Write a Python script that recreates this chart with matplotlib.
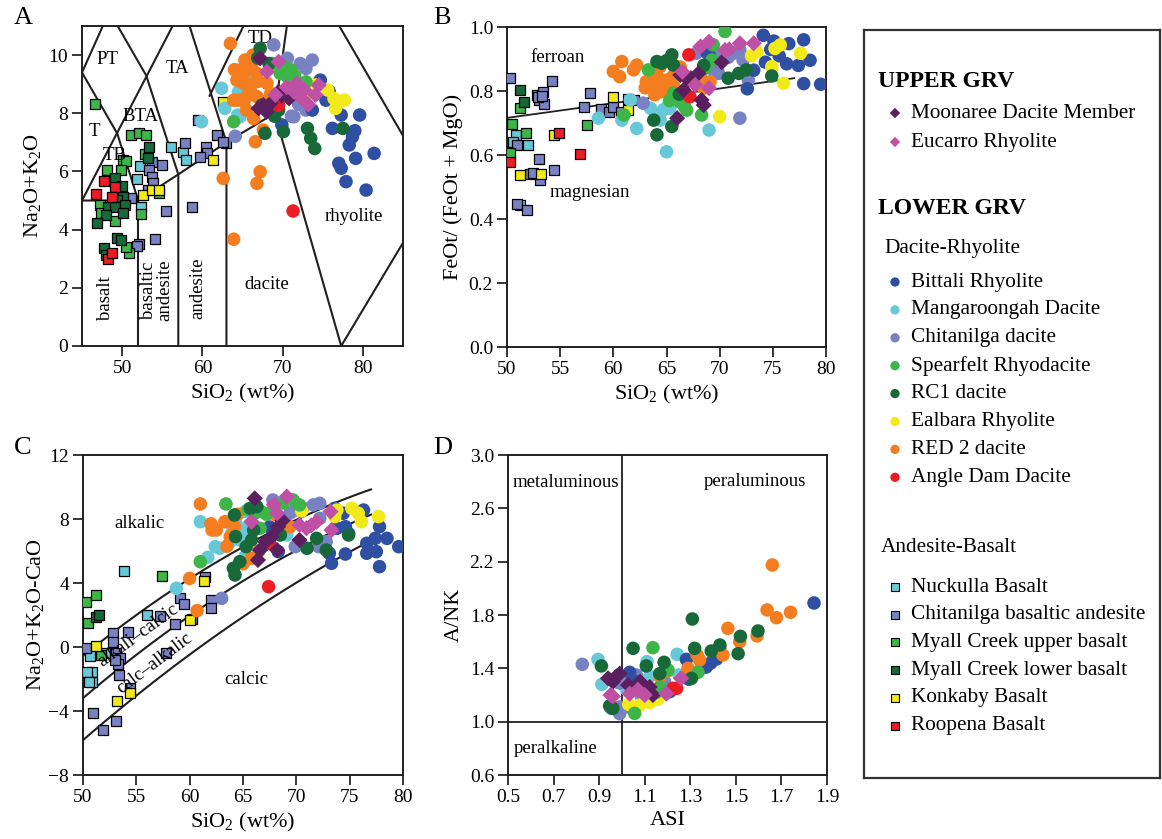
import matplotlib
matplotlib.use("Agg")
import matplotlib.pyplot as plt
import numpy as np

plt.rcParams['font.family'] = ['Liberation Serif', 'DejaVu Serif']
plt.rcParams['mathtext.fontset'] = 'custom'
plt.rcParams['mathtext.rm'] = 'Liberation Serif'
plt.rcParams['mathtext.it'] = 'Liberation Serif:italic'
plt.rcParams['mathtext.bf'] = 'Liberation Serif:bold'

# ---------------- data (SiO2, value) ----------------
# panel A: TAS
A_moonaree = [(67.2,9.89),(69.5,8.74),(67.6,8.28),(67.0,8.17),(68.5,8.34),(70.8,8.51),(68.0,8.05),(69.9,8.6)]
A_eucarro = [(69.5,9.77),(68.05,9.43),(71.8,9.03),(72.7,8.8),(71.4,8.74),(72.4,8.51),(74.1,8.63),(74.5,8.97),(69.1,8.63),(70.5,8.9),(73.2,8.3)]
A_bittali = [(74.7,9.14),(75.4,8.45),(77.3,7.94),(79.6,7.94),(76.2,7.48),(78.7,7.19),(78.3,6.91),(79.1,6.45),(81.4,6.62),(77.0,6.28),(77.3,6.11),(77.9,5.65),(80.4,5.36),(73.7,8.11),(69.9,7.6),(75.8,8.75),(79.0,7.4)]
A_mangaroongah = [(62.4,8.86),(62.8,8.17),(59.9,7.71),(64.5,8.74),(64.7,7.88),(64.4,7.94),(65.5,8.9),(66.0,9.3)]
A_chitanilga_d = [(68.9,10.35),(70.6,9.89),(72.2,9.71),(73.7,9.83),(72.9,9.54),(71.4,7.88),(72.9,8.11),(64.1,7.21),(71.1,7.9),(70.9,9.5),(72.0,8.3)]
A_spearfelt = [(68.7,9.71),(71.0,9.49),(70.6,9.26),(63.9,7.71),(72.9,9.08),(69.7,9.37),(70.3,9.6),(71.5,9.3)]
A_rc1 = [(67.2,10.23),(68.3,9.71),(67.4,8.28),(67.8,7.31),(70.1,7.37),(73.1,7.48),(73.5,7.14),(74.0,6.79),(77.5,7.48),(69.5,8.11),(66.9,9.9),(69.0,7.9)]
A_ealbara = [(71.0,9.2),(74.1,8.97),(75.6,8.8),(76.4,8.51),(77.7,8.45),(76.6,8.17),(73.2,8.7)]
A_red2 = [(63.5,10.4),(65.3,9.83),(64.7,9.49),(64.3,9.14),(65.1,9.03),(66.2,9.71),(66.8,9.37),(65.96,8.8),(64.5,8.45),(65.5,8.11),(66.8,8.57),(68.05,9.03),(68.5,8.68),(67.4,8.4),(66.4,7.82),(67.6,7.42),(66.6,7.02),(67.2,5.99),(66.8,5.59),(62.6,5.76),(63.9,8.45),(65.7,9.49),(63.9,3.67),(65.0,9.3),(66.0,9.0),(64.0,9.5),(65.6,8.6),(67.0,9.1),(65.2,8.4),(66.3,10.0)]
A_angle = [(71.3,4.64),(69.5,8.28)]
A_nuckulla = [(56.1,6.85),(57.6,6.68),(57.9,6.39),(52.2,6.19),(51.9,5.73),(52.4,4.79)]
A_chitanilga_ba = [(57.8,6.97),(59.5,7.77),(60.4,6.85),(61.8,7.25),(62.9,6.97),(60.6,6.62),(59.7,6.51),(55.0,6.22),(53.7,6.34),(53.4,6.05),(53.7,5.82),(53.9,5.59),(53.2,5.36),(51.1,5.08),(55.5,4.65),(58.7,4.77),(54.1,3.67),(52.1,3.51),(51.8,3.45),(62.6,7.0)]
A_myall_up = [(46.6,8.32),(51.1,7.25),(52.1,7.31),(53.0,7.25),(52.8,6.6),(50.1,6.39),(50.5,6.37),(48.1,6.05),(49.9,6.05),(47.2,4.85),(47.4,4.56),(49.1,4.28),(52.4,4.54),(50.9,3.19),(50.5,3.42),(54.6,5.25),(49.5,5.0)]
A_myall_low = [(53.4,6.85),(53.2,6.45),(48.4,5.71),(49.1,5.76),(50.1,5.13),(49.3,5.02),(48.2,4.79),(49.1,4.79),(50.3,4.85),(48.0,4.5),(50.1,4.56),(46.9,4.22),(49.3,3.7),(49.9,3.65),(47.8,3.36),(48.0,3.13),(50.0,5.5)]
A_konkaby = [(62.6,8.4),(61.3,6.39),(52.6,5.19),(53.7,5.36),(54.6,5.36)]
A_roopena = [(47.7,5.68),(49.1,5.45),(46.8,5.23),(48.7,5.13),(48.2,3.0),(48.7,3.21)]

# panel B: Fe number
B_moonaree = [(66.3,0.85),(67.1,0.834),(66.6,0.803),(68.0,0.855),(68.3,0.772),(68.5,0.756),(66.0,0.715),(67.3,0.84),(70.2,0.89)]
B_eucarro = [(69.0,0.954),(68.2,0.939),(70.5,0.928),(71.9,0.949),(73.2,0.949),(67.7,0.819),(69.0,0.809),(66.5,0.86),(70.9,0.93)]
B_bittali = [(74.1,0.974),(75.1,0.956),(76.5,0.948),(77.9,0.96),(78.5,0.896),(76.3,0.885),(77.4,0.88),(73.2,0.865),(72.6,0.807),(77.9,0.823),(79.5,0.821),(74.3,0.89),(69.0,0.913),(68.8,0.92),(75.6,0.91),(74.8,0.93)]
B_mangaroongah = [(58.6,0.715),(60.8,0.709),(62.2,0.683),(63.5,0.746),(64.7,0.741),(64.4,0.709),(65.3,0.746),(65.0,0.61),(69.0,0.678),(61.6,0.772),(64.0,0.73),(65.2,0.76)]
B_chitanilga_d = [(67.8,0.918),(69.6,0.907),(69.9,0.855),(71.3,0.918),(71.9,0.928),(72.2,0.897),(72.7,0.834),(71.9,0.715),(62.8,0.762),(70.8,0.905),(69.2,0.87)]
B_spearfelt = [(70.5,0.986),(63.3,0.866),(68.6,0.871),(69.4,0.944),(65.65,0.793),(66.7,0.751),(68.3,0.725),(61.0,0.725),(69.3,0.897),(66.3,0.765),(65.3,0.77),(66.9,0.74)]
B_rc1 = [(64.1,0.892),(65.5,0.913),(64.55,0.887),(65.65,0.881),(70.8,0.84),(71.8,0.855),(72.5,0.866),(74.9,0.847),(64.1,0.663),(65.5,0.689),(63.8,0.709),(65.0,0.895),(68.5,0.88),(66.2,0.79)]
B_ealbara = [(73.5,0.923),(75.2,0.933),(75.7,0.944),(77.6,0.918),(74.9,0.876),(76.0,0.824),(70.0,0.72),(73.0,0.91)]
B_red2 = [(60.8,0.892),(60.0,0.861),(60.6,0.845),(62.2,0.881),(61.9,0.866),(63.5,0.861),(64.1,0.85),(63.5,0.829),(64.1,0.814),(65.0,0.834),(65.6,0.845),(64.55,0.798),(68.2,0.845),(69.1,0.829),(68.5,0.809),(63.9,0.788),(63.1,0.829),(65.7,0.814),(64.4,0.876),(64.8,0.82),(66.3,0.875),(63.0,0.81),(65.2,0.8),(67.0,0.84)]
B_angle = [(67.1,0.913),(67.2,0.782)]
B_nuckulla = [(50.85,0.664),(50.6,0.641),(52.0,0.63),(51.25,0.443),(61.4,0.774)]
B_chitanilga_ba = [(50.25,0.842),(54.2,0.831),(52.8,0.786),(53.4,0.797),(53.0,0.771),(53.5,0.76),(52.9,0.78),(53.3,0.785),(57.8,0.794),(57.2,0.75),(58.8,0.745),(59.6,0.734),(60.0,0.75),(60.7,0.734),(50.9,0.63),(53.0,0.586),(54.4,0.552),(52.2,0.542),(53.1,0.521),(50.9,0.446),(51.9,0.427),(61.9,0.771),(52.4,0.545)]
B_myall_up = [(51.2,0.748),(50.5,0.698),(51.8,0.67),(50.25,0.606),(57.5,0.693)]
B_myall_low = [(51.2,0.802),(51.6,0.766)]
B_konkaby = [(60.0,0.781),(61.35,0.74),(54.4,0.661),(51.25,0.536),(53.2,0.542)]
B_roopena = [(50.3,0.578),(54.9,0.67),(56.9,0.602)]

# panel C: MALI
C_moonaree = [(66.1,9.29),(67.1,6.58),(66.6,6.06),(66.4,5.44),(67.7,6.9),(68.2,6.06),(68.3,7.52),(70.3,6.69),(68.7,7.9)]
C_eucarro = [(69.1,9.4),(68.2,8.36),(65.8,7.83),(70.3,7.63),(70.95,7.42),(71.9,7.83),(73.2,8.46),(73.3,7.31),(71.4,7.6),(67.9,8.9)]
C_bittali = [(73.6,8.67),(74.4,8.36),(76.3,8.56),(73.8,7.42),(74.6,7.52),(74.9,7.1),(76.6,6.48),(77.8,7.52),(77.4,6.79),(78.5,6.79),(79.6,6.27),(73.1,5.86),(74.6,5.81),(76.6,5.86),(77.5,5.96),(77.8,5.02),(73.3,5.23),(68.3,5.96),(67.5,7.5)]
C_mangaroongah = [(61.0,7.83),(65.2,8.46),(64.4,7.63),(65.0,7.31),(64.7,6.69),(63.8,6.58),(62.4,6.27),(62.8,6.17),(61.7,5.6),(65.2,5.65),(69.1,7.0),(58.75,3.67),(65.6,7.6),(64.0,7.2)]
C_chitanilga_d = [(67.8,9.19),(63.0,3.04),(69.9,8.56),(71.6,8.88),(72.2,8.98),(69.4,8.36),(72.2,8.04),(69.9,6.27),(72.1,6.27),(72.8,6.58),(70.6,8.7)]
C_spearfelt = [(63.4,8.94),(61.0,5.33),(66.7,8.46),(66.1,8.36),(66.6,7.42),(69.7,9.19),(70.3,8.88),(68.8,9.0),(67.2,8.3),(65.5,8.6)]
C_rc1 = [(64.2,8.25),(65.7,8.67),(66.3,8.77),(64.1,4.92),(64.25,4.5),(64.7,5.33),(65.8,6.69),(66.0,7.31),(65.3,6.27),(71.0,6.17),(71.9,6.79),(72.8,6.06),(74.9,7.0),(68.5,7.0),(64.3,6.9)]
C_ealbara = [(73.8,8.56),(75.2,8.67),(75.8,8.36),(76.1,7.83),(77.7,8.15),(73.6,8.15),(70.5,8.5)]
C_red2 = [(61.0,8.94),(62.1,7.31),(62.5,7.31),(63.3,7.83),(64.2,7.52),(63.8,6.9),(65.8,5.54),(68.1,8.25),(67.7,8.46),(69.4,7.52),(60.0,4.29),(60.7,2.27),(64.5,8.3),(63.5,6.3),(65.0,5.2),(66.5,6.0),(62.0,7.7)]
C_angle = [(67.4,3.77),(67.5,6.48)]
C_nuckulla = [(53.8,4.77),(56.0,2.0),(50.7,-0.56),(50.8,-1.54),(50.8,-2.17),(50.4,-1.54),(52.1,-0.4),(50.6,-2.2)]
C_chitanilga_ba = [(50.25,-0.08),(52.8,0.9),(54.2,0.96),(52.8,0.33),(53.1,-0.4),(53.5,-0.7),(53.3,-1.06),(53.4,-1.75),(53.0,-0.81),(54.4,-2.58),(50.9,-4.15),(51.9,-5.19),(53.1,-4.63),(59.1,3.04),(59.5,2.69),(58.6,1.44),(57.8,-0.4),(57.2,1.94),(60.25,1.73),(62.0,2.94),(62.0,2.42),(61.4,4.4)]
C_myall_up = [(50.3,2.83),(51.2,3.25),(50.5,1.48),(57.4,4.44),(51.7,-0.5)]
C_myall_low = [(51.25,1.9),(51.5,2.0)]
C_konkaby = [(51.25,0.06),(53.2,-3.4),(54.4,-2.85),(60.0,1.69),(61.3,4.15)]
C_roopena = []

# panel D: ASI vs A/NK
D_moonaree = [(0.939,1.325),(0.975,1.338),(0.99,1.36),(1.027,1.275),(1.122,1.26),(1.136,1.2),(0.96,1.3),(1.08,1.3)]
D_eucarro = [(0.96,1.19),(1.034,1.21),(1.07,1.24),(1.195,1.21),(1.26,1.325),(0.95,1.2),(1.1,1.2)]
D_bittali = [(1.843,1.89),(1.429,1.555),(1.415,1.47),(1.37,1.41),(1.283,1.467),(1.294,1.318),(1.034,1.37),(1.21,1.225),(1.349,1.4),(1.39,1.44),(1.06,1.3)]
D_mangaroongah = [(0.895,1.467),(0.912,1.28),(1.11,1.45),(1.242,1.505),(1.25,1.35),(1.122,1.34),(1.019,1.243),(1.07,1.31)]
D_chitanilga_d = [(0.826,1.43),(0.99,1.29),(1.063,1.35),(1.187,1.3),(1.085,1.19),(0.99,1.11),(0.99,1.06),(1.027,1.11),(0.953,1.1),(1.012,1.3)]
D_spearfelt = [(1.136,1.555),(1.202,1.388),(1.334,1.37),(1.056,1.062),(1.166,1.26),(1.15,1.22)]
D_rc1 = [(1.309,1.77),(1.597,1.68),(1.52,1.64),(1.51,1.51),(1.43,1.575),(1.392,1.53),(1.319,1.55),(1.049,1.55),(1.185,1.445),(1.107,1.418),(0.91,1.418),(1.166,1.36),(0.946,1.118),(1.305,1.325),(0.96,1.1),(1.1,1.25)]
D_ealbara = [(1.078,1.125),(1.122,1.143),(1.158,1.168),(1.03,1.13)]
D_red2 = [(1.66,2.175),(1.637,1.838),(1.678,1.78),(1.74,1.82),(1.465,1.7),(1.517,1.6),(1.593,1.643),(1.443,1.5),(1.341,1.463),(1.29,1.4),(1.166,1.34),(1.2,1.38),(1.33,1.5)]
D_angle = [(1.224,1.25),(1.24,1.25)]

# series names / colours
upper_names = ["Moonaree Dacite Member", "Eucarro Rhyolite"]
upper_colors = ["#5b1f5f", "#c04fa6"]
dr_names = ["Bittali Rhyolite", "Mangaroongah Dacite", "Chitanilga dacite", "Spearfelt Rhyodacite",
            "RC1 dacite", "Ealbara Rhyolite", "RED 2 dacite", "Angle Dam Dacite"]
dr_colors = ["#2f4fa2", "#67c8d8", "#7882c2", "#3db549", "#18693a", "#f2e918", "#f47d20", "#ec1c24"]
ab_names = ["Nuckulla Basalt", "Chitanilga basaltic andesite", "Myall Creek upper basalt",
            "Myall Creek lower basalt", "Konkaby Basalt", "Roopena Basalt"]
ab_colors = ["#67c8d8", "#7882c2", "#3db549", "#18693a", "#f2e918", "#ec1c24"]

panels = {
    "A": ([A_moonaree, A_eucarro],
          [A_bittali, A_mangaroongah, A_chitanilga_d, A_spearfelt, A_rc1, A_ealbara, A_red2, A_angle],
          [A_nuckulla, A_chitanilga_ba, A_myall_up, A_myall_low, A_konkaby, A_roopena]),
    "B": ([B_moonaree, B_eucarro],
          [B_bittali, B_mangaroongah, B_chitanilga_d, B_spearfelt, B_rc1, B_ealbara, B_red2, B_angle],
          [B_nuckulla, B_chitanilga_ba, B_myall_up, B_myall_low, B_konkaby, B_roopena]),
    "C": ([C_moonaree, C_eucarro],
          [C_bittali, C_mangaroongah, C_chitanilga_d, C_spearfelt, C_rc1, C_ealbara, C_red2, C_angle],
          [C_nuckulla, C_chitanilga_ba, C_myall_up, C_myall_low, C_konkaby, C_roopena]),
    "D": ([D_moonaree, D_eucarro],
          [D_bittali, D_mangaroongah, D_chitanilga_d, D_spearfelt, D_rc1, D_ealbara, D_red2, D_angle],
          [[], [], [], [], [], []]),
}

# TAS field boundaries (Le Bas et al. 1986)
tas_lines = [
    [(45, 9.4), (48.4, 11.5)],
    [(45, 9.4), (49.4, 7.3), (52, 5)],
    [(45, 5), (61, 13.5)],
    [(48.4, 11.5), (53, 9.3), (57, 5.9), (57, 0)],
    [(52.5, 14), (57.6, 11.7), (63, 7), (63, 0)],
    [(60.9, 8.6), (65.3, 11.1)],
    [(45, 5), (52, 5), (57, 5.9), (63, 7), (69, 8)],
    [(52, 5), (52, 0)],
    [(71.8, 13.5), (69, 8), (77.3, 0), (87.5, 4.7)],
    [(71.8, 13.5), (85.9, 6.8)],
]
# MALI boundaries (Frost et al. 2001), quadratic coefficients
mali_coef = [(-41.86, 1.112, -0.00572), (-44.72, 1.094, -0.00527), (-45.36, 1.0043, -0.00427)]
# FeOt/(FeOt+MgO) ferroan/magnesian boundary
fe_line_x = [50, 77]
fe_line_y = [0.716, 0.84]

W, H = 1162, 839
LINE = "#231f20"
fig = plt.figure(figsize=(W / 100, H / 100), dpi=100)


def rect(l, t, r, b):
    return [l / W, 1 - b / H, (r - l) / W, (b - t) / H]


def style(ax):
    for s in ax.spines.values():
        s.set_linewidth(1.4)
        s.set_color(LINE)
    ax.tick_params(direction="out", length=7, width=1.1, labelsize=14, colors="black", pad=3)


def draw_points(ax, key):
    up, dr, ab = panels[key]
    for pts, c in zip(ab, ab_colors):
        if pts:
            x, y = zip(*pts)
            ax.scatter(x, y, marker="s", s=55, c=c, edgecolors="black", linewidths=0.9, zorder=3)
    order = [1, 2, 0, 5, 6, 3, 4, 7]
    for i in order:
        pts = dr[i]
        if pts:
            x, y = zip(*pts)
            ax.scatter(x, y, marker="o", s=95, c=dr_colors[i], edgecolors="none", zorder=4)
    for pts, c in zip(up, upper_colors):
        if pts:
            x, y = zip(*pts)
            ax.scatter(x, y, marker="D", s=68, c=c, edgecolors="none", zorder=5)


# ---- A ----
axA = fig.add_axes(rect(82, 26, 403, 346))
for seg in tas_lines:
    xs, ys = zip(*seg)
    axA.plot(xs, ys, color=LINE, lw=1.5, zorder=2)
draw_points(axA, "A")
axA.set_xlim(45, 85)
axA.set_ylim(0, 11)
axA.set_xticks([50, 60, 70, 80])
axA.set_yticks([0, 2, 4, 6, 8, 10])
axA.set_xlabel("SiO$_2$ (wt%)", fontsize=16, labelpad=4)
axA.set_ylabel("Na$_2$O+K$_2$O", fontsize=16, labelpad=4)
fs = 13.5
axA.text(48.2, 9.85, "PT", fontsize=fs, ha="center", va="center")
axA.text(56.9, 9.54, "TA", fontsize=fs, ha="center", va="center")
axA.text(67.2, 10.57, "TD", fontsize=fs, ha="center", va="center")
axA.text(52.3, 7.88, "BTA", fontsize=fs, ha="center", va="center")
axA.text(46.6, 7.39, "T", fontsize=fs, ha="center", va="center")
axA.text(49.1, 6.56, "TB", fontsize=fs, ha="center", va="center")
axA.text(47.9, 1.63, "basalt", fontsize=fs, ha="center", va="center", rotation=90)
axA.text(54.3, 1.9, "basaltic\nandesite", fontsize=fs, ha="center", va="center", rotation=90, linespacing=1.0)
axA.text(59.4, 1.97, "andesite", fontsize=fs, ha="center", va="center", rotation=90)
axA.text(68.0, 2.12, "dacite", fontsize=fs, ha="center", va="center")
axA.text(78.9, 4.44, "rhyolite", fontsize=fs, ha="center", va="center")
style(axA)

# ---- B ----
axB = fig.add_axes(rect(507, 27, 826, 347))
axB.plot(fe_line_x, fe_line_y, color=LINE, lw=1.3, zorder=2)
draw_points(axB, "B")
axB.set_xlim(50, 80)
axB.set_ylim(0, 1.0)
axB.set_xticks(np.arange(50, 81, 5))
axB.set_yticks(np.arange(0, 1.01, 0.2))
axB.set_yticklabels(["0.0", "0.2", "0.4", "0.6", "0.8", "1.0"])
axB.set_xlabel("SiO$_2$ (wt%)", fontsize=16, labelpad=4)
axB.set_ylabel("FeOt/ (FeOt + MgO)", fontsize=16, labelpad=4)
axB.text(54.8, 0.904, "ferroan", fontsize=fs, ha="center", va="center")
axB.text(57.8, 0.484, "magnesian", fontsize=fs, ha="center", va="center")
style(axB)

# ---- C ----
axC = fig.add_axes(rect(83, 455, 403, 775))
xc = np.linspace(50, 77, 100)
for a0, a1, a2 in mali_coef:
    axC.plot(xc, a0 + a1 * xc + a2 * xc ** 2, color=LINE, lw=1.5, zorder=2)
draw_points(axC, "C")
axC.set_xlim(50, 80)
axC.set_ylim(-8, 12)
axC.set_xticks(np.arange(50, 81, 5))
axC.set_yticks([-8, -4, 0, 4, 8, 12])
axC.set_yticklabels(["\u22128", "\u22124", "0", "4", "8", "12"])
axC.set_xlabel("SiO$_2$ (wt%)", fontsize=16, labelpad=4)
axC.set_ylabel("Na$_2$O+K$_2$O-CaO", fontsize=16, labelpad=2)
axC.text(55.3, 7.7, "alkalic", fontsize=fs, ha="center", va="center")
axC.text(55.2, 0.7, "alkali\u2013calcic", fontsize=fs, ha="center", va="center", rotation=36)
axC.text(56.7, -1.0, "calc\u2013alkalic", fontsize=fs, ha="center", va="center", rotation=37)
axC.text(65.3, -2.0, "calcic", fontsize=fs, ha="center", va="center")
style(axC)

# ---- D ----
axD = fig.add_axes(rect(508, 455, 827, 775))
axD.axvline(1.0, color=LINE, lw=1.3, zorder=2)
axD.axhline(1.0, color=LINE, lw=1.3, zorder=2)
draw_points(axD, "D")
axD.set_xlim(0.5, 1.9)
axD.set_ylim(0.6, 3.0)
axD.set_xticks(np.arange(0.5, 1.91, 0.2))
axD.set_xticklabels(["0.5", "0.7", "0.9", "1.1", "1.3", "1.5", "1.7", "1.9"])
axD.set_yticks(np.arange(0.6, 3.01, 0.4))
axD.set_yticklabels(["0.6", "1.0", "1.4", "1.8", "2.2", "2.6", "3.0"])
axD.set_xlabel("ASI", fontsize=16, labelpad=4)
axD.set_ylabel("A/NK", fontsize=16, labelpad=4)
axD.text(0.756, 2.795, "metaluminous", fontsize=fs, ha="center", va="center")
axD.text(1.583, 2.8, "peraluminous", fontsize=fs, ha="center", va="center")
axD.text(0.709, 0.8, "peralkaline", fontsize=fs, ha="center", va="center")
style(axD)

# panel letters
for lab, (px, py) in zip("ABCD", [(23, 18), (442, 18), (23, 448), (443, 448)]):
    fig.text(px / W, 1 - py / H, lab, fontsize=19, ha="center", va="center")

# ---- legend box ----
axL = fig.add_axes(rect(864, 30, 1160, 778))
axL.set_xlim(0, 296)
axL.set_ylim(748, 0)
axL.set_xticks([])
axL.set_yticks([])
for s in axL.spines.values():
    s.set_linewidth(1.6)
    s.set_color("#333333")

lfs = 15.3
mx, tx = 31, 47
axL.text(14, 51, "UPPER GRV", fontsize=17, fontweight="bold", va="center")
for i, (n, c) in enumerate(zip(upper_names, upper_colors)):
    y = 83 + 29 * i
    axL.scatter([mx], [y], marker="D", s=28, c=c, edgecolors="none")
    axL.text(tx, y, n, fontsize=lfs, va="center")
axL.text(14, 178, "LOWER GRV", fontsize=17, fontweight="bold", va="center")
axL.text(20, 218, "Dacite-Rhyolite", fontsize=lfs, va="center")
for i, (n, c) in enumerate(zip(dr_names, dr_colors)):
    y = 252 + 27.9 * i
    axL.scatter([mx], [y], marker="o", s=45, c=c, edgecolors="none")
    axL.text(tx, y, n, fontsize=lfs, va="center")
axL.text(17, 517, "Andesite-Basalt", fontsize=lfs, va="center")
for i, (n, c) in enumerate(zip(ab_names, ab_colors)):
    y = 557 + 27.7 * i
    axL.scatter([mx], [y], marker="s", s=40, c=c, edgecolors="black", linewidths=0.8)
    axL.text(tx, y, n, fontsize=lfs, va="center")

fig.savefig("out.png", dpi=100)
